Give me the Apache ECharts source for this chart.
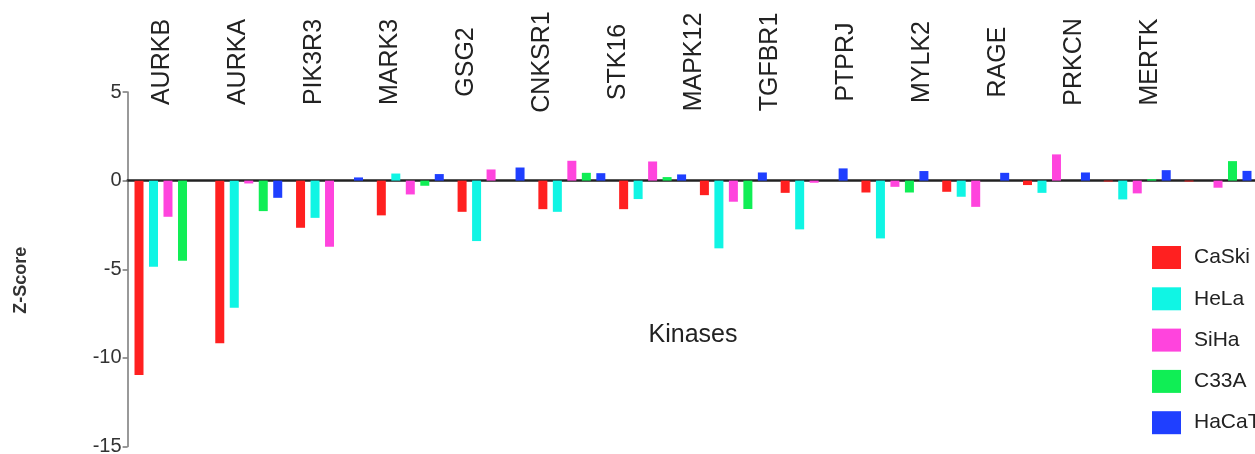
<!DOCTYPE html>
<html>
<head>
<meta charset="utf-8">
<script src="https://cdn.jsdelivr.net/npm/echarts@6/dist/echarts.min.js"></script>
<style>html,body{margin:0;padding:0;background:#fff;}#c{width:1255px;height:454px;}</style>
</head>
<body>
<div id="c"></div>
<script>
const categories = ['AURKB','AURKA','PIK3R3','MARK3','GSG2','CNKSR1','STK16','MAPK12','TGFBR1','PTPRJ','MYLK2','RAGE','PRKCN','MERTK'];
const seriesNames = ['CaSki','HeLa','SiHa','C33A','HaCaT'];
const CaSki = [-10.96,-9.18,-2.66,-1.96,-1.76,-1.61,-1.61,-0.82,-0.69,-0.67,-0.63,-0.25,-0.05,-0.05];
const HeLa  = [-4.86,-7.17,-2.10,0.40,-3.41,-1.76,-1.04,-3.82,-2.75,-3.26,-0.91,-0.69,-1.06,0];
const SiHa  = [-2.04,-0.16,-3.73,-0.78,0.63,1.12,1.08,-1.19,-0.12,-0.35,-1.48,1.48,-0.72,-0.40];
const C33A  = [-4.52,-1.72,0,-0.29,0,0.44,0.20,-1.60,0,-0.67,0,0,0.08,1.10];
const HaCaT = [0,-0.97,0.18,0.37,0.74,0.42,0.35,0.46,0.69,0.54,0.44,0.46,0.59,0.55];
const yTicks = { min: -15, max: 5, interval: 5 };
const colors = ['#ff2020','#10f5e4','#ff44dd','#10ee55','#1f3fff'];
const values = [CaSki, HeLa, SiHa, C33A, HaCaT];

const font = '"Liberation Sans", Arial, sans-serif';
const chart = echarts.init(document.getElementById('c'), null, {renderer: 'canvas'});
chart.setOption({
  animation: false,
  color: colors,
  textStyle: { fontFamily: font },
  grid: [
    { left: 127.6, top: 92, width: 1130.8, height: 354.5, containLabel: false, outerBoundsMode: 'none' },
    { left: 124, top: 100, width: 1064, height: 1, containLabel: false, outerBoundsMode: 'none' }
  ],
  legend: {
    orient: 'vertical', left: 1147, top: 241,
    itemWidth: 29, itemHeight: 23, itemGap: 18.3,
    icon: 'rect',
    data: seriesNames,
    textStyle: { fontSize: 21, color: '#222', fontFamily: font, padding: [0,0,0,8] }
  },
  xAxis: [
    {
      type: 'category', gridIndex: 0, data: categories,
      axisLine: { onZero: true, lineStyle: { color: '#222', width: 2.5 } },
      axisTick: { show: false }, axisLabel: { show: false },
      name: 'Kinases', nameLocation: 'middle', nameGap: -124,
      nameTextStyle: { fontSize: 25, color: '#222', fontFamily: font }
    },
    {
      type: 'category', gridIndex: 1, data: categories, position: 'top',
      axisLine: { show: false }, axisTick: { show: false },
      axisLabel: { interval: 0, rotate: 90, fontSize: 25, color: '#222', fontFamily: font,
                   align: 'center', verticalAlign: 'middle', margin: 38 }
    }
  ],
  yAxis: [
    {
      type: 'value', gridIndex: 0, min: yTicks.min, max: yTicks.max, interval: yTicks.interval,
      axisLine: { show: true, lineStyle: { color: '#777', width: 1.5 } },
      axisTick: { show: true, length: 5, lineStyle: { color: '#777', width: 1.5 } },
      splitLine: { show: false },
      axisLabel: { fontSize: 20, color: '#333', margin: 6, fontFamily: font },
      name: 'Z-Score', nameLocation: 'middle', nameGap: 98,
      nameTextStyle: { fontSize: 18, fontWeight: 'bold', color: '#333', fontFamily: font, padding: [0, 22, 0, 0] }
    },
    { type: 'value', gridIndex: 1, show: false }
  ],
  series: seriesNames.map((n, i) => ({
    name: n, type: 'bar', xAxisIndex: 0, yAxisIndex: 0,
    data: values[i], barWidth: 9, barGap: '61%',
    itemStyle: { color: colors[i] }
  }))
});
</script>
</body>
</html>
